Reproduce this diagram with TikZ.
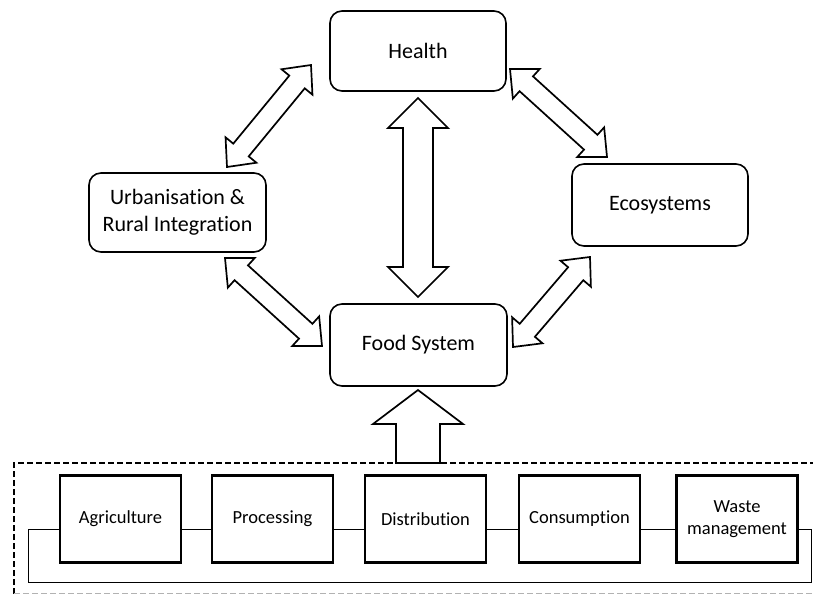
\documentclass[tikz,border=0pt]{standalone}
\usepackage{fontspec}
\setmainfont{Carlito}[Ligatures={NoCommon}]
\usetikzlibrary{calc}
\newcommand\dblblock[5]{%
  \draw[blockline] (#1)
   -- ($(#1)!#5!(#2)!#4!90:(#2)$)
   -- ($(#1)!#5!(#2)!#3!90:(#2)$)
   -- ($(#2)!#5!(#1)!#3!-90:(#1)$)
   -- ($(#2)!#5!(#1)!#4!-90:(#1)$)
   -- (#2)
   -- ($(#2)!#5!(#1)!#4!90:(#1)$)
   -- ($(#2)!#5!(#1)!#3!90:(#1)$)
   -- ($(#1)!#5!(#2)!#3!-90:(#2)$)
   -- ($(#1)!#5!(#2)!#4!-90:(#2)$)
   -- cycle;}
\newcommand\singleblock[5]{%
  \draw[blockline] (#2)
   -- ($(#2)!#5!(#1)!#4!90:(#1)$)
   -- ($(#2)!#5!(#1)!#3!90:(#1)$)
   -- ($(#1)!#3!-90:(#2)$)
   -- ($(#1)!#3!90:(#2)$)
   -- ($(#2)!#5!(#1)!#3!-90:(#1)$)
   -- ($(#2)!#5!(#1)!#4!-90:(#1)$)
   -- cycle;}
\tikzset{
  topbox/.style={draw, line width=1.6pt, rounded corners=12pt, align=center,
    font=\fontsize{22}{27}\selectfont, inner sep=0pt},
  stagebox/.style={draw, line width=2.2pt, align=center, minimum width=121pt,
    minimum height=87pt, font=\fontsize{18.5}{21.5}\selectfont, inner sep=0pt},
  blockline/.style={draw, line width=1.7pt, fill=white, line join=miter},
  thinline/.style={line width=0.8pt},
}
\begin{document}
\begin{tikzpicture}[x=1pt,y=-1pt]
\useasboundingbox[fill=white] (0,0) rectangle (813,594);
% top nodes
\node[topbox, minimum width=176pt, minimum height=80pt] (health) at (418,51) {Health};
\node[topbox, minimum width=176pt, minimum height=82pt] (eco) at (660,205) {Ecosystems};
\node[topbox, minimum width=177pt, minimum height=79pt] (urb) at (177.5,212.5) {Urbanisation \&\\Rural Integration};
\node[topbox, minimum width=177pt, minimum height=82pt] (food) at (418.5,345) {Food System};
% arrow endpoints
\coordinate (a1s) at (227,167); \coordinate (a1e) at (311,65);
\coordinate (a2s) at (510,69);  \coordinate (a2e) at (607,157);
\coordinate (a3s) at (225,258); \coordinate (a3e) at (322,346);
\coordinate (a4s) at (590,257); \coordinate (a4e) at (513,347);
\coordinate (vs) at (418,98);   \coordinate (ve) at (418,297);
\coordinate (us) at (418,463);  \coordinate (ue) at (418,390);
\dblblock{a1s}{a1e}{10pt}{20pt}{22pt}
\dblblock{a2s}{a2e}{10pt}{20pt}{22pt}
\dblblock{a3s}{a3e}{10pt}{20pt}{22pt}
\dblblock{a4s}{a4e}{10pt}{20pt}{22pt}
\dblblock{vs}{ve}{15pt}{30pt}{30pt}
% dashed frame
\draw[line width=1.6pt, dash pattern=on 6pt off 3pt] (14,594) -- (14,463) -- (813,463);
\draw[line width=0.8pt, gray!60, dash pattern=on 6pt off 3pt] (14,593) -- (813,593);
\singleblock{us}{ue}{22pt}{45pt}{34pt}
% stage boxes
\node[stagebox] (agri) at (120.5,519) {Agriculture};
\node[stagebox] (proc) at (272.5,519) {Processing};
\node[stagebox] (dist) at (425.5,519) {Distribution};
\node[stagebox] (cons) at (579.5,519) {Consumption};
\node[stagebox] (waste) at (737,519) {Waste\\management};
\coordinate (l1) at (811,529); \coordinate (l2) at (811,582);
\coordinate (l3) at (28,582);  \coordinate (l4) at (28,529);
\draw[thinline] (agri.east |- 0,529) -- (proc.west |- 0,529);
\draw[thinline] (proc.east |- 0,529) -- (dist.west |- 0,529);
\draw[thinline] (dist.east |- 0,529) -- (cons.west |- 0,529);
\draw[thinline] (cons.east |- 0,529) -- (waste.west |- 0,529);
\draw[thinline] (waste.east |- 0,529) -- (l1) -- (l2) -- (l3) -- (l4) -- (agri.west |- 0,529);
\end{tikzpicture}
\end{document}
